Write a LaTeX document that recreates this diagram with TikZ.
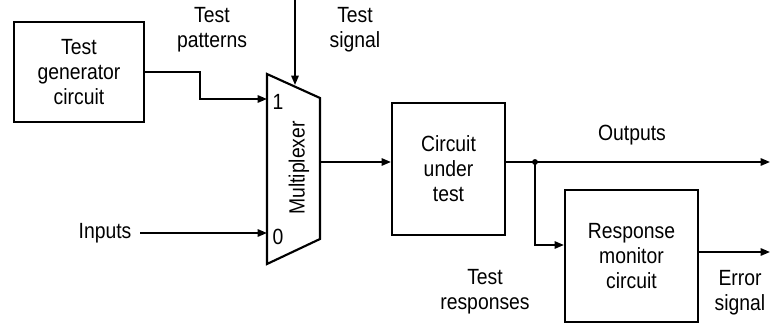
\documentclass[tikz,border=0pt]{standalone}
\usepackage{fontspec}
\setmainfont{Liberation Sans}[FakeStretch=0.88]
\usetikzlibrary{arrows.meta}
\begin{document}
\begin{tikzpicture}[x=0.75pt, y=-0.75pt, line width=1.4pt,
  >={Triangle[length=7pt,width=5.5pt]},
  block/.style={draw, line width=1.6pt, align=center, inner sep=0pt},
  lbl/.style={align=center, inner sep=2pt},
  every node/.append style={font=\fontsize{16.5pt}{18.75pt}\selectfont}]
\useasboundingbox (0,0) rectangle (770,324);

\node[block, minimum width=97.5pt, minimum height=75pt] (gen) at (79,72) {Test\\generator\\circuit};
\node[block, minimum width=84.75pt, minimum height=99pt] (cut) at (448.5,169) {Circuit\\under\\test};
\node[block, minimum width=99.75pt, minimum height=99pt] (rm) at (631.5,256) {Response\\monitor\\circuit};

% multiplexer
\draw[line width=1.6pt] (267,74) -- (320,98) -- (320,239) -- (267,264) -- cycle;
\node[lbl, rotate=90] (muxlbl) at (299,168) {Multiplexer};
\node[lbl] (one) at (278,102) {1};
\node[lbl] (zero) at (278,237) {0};
\coordinate (in1) at (267,99);
\coordinate (in0) at (267,233);
\coordinate (sel) at (295,85);
\coordinate (seltop) at (295,0);
\coordinate (muxout) at (320,162);

\node[lbl] (patterns) at (212,30) {Test\\patterns};
\node[lbl] (signal) at (355,30) {Test\\signal};
\node[lbl] (inputs) at (105,233) {Inputs};
\node[lbl] (outputs) at (632,135) {Outputs};
\node[lbl] (responses) at (485,292) {Test\\responses};
\node[lbl] (error) at (740,293) {Error\\signal};

\coordinate (split) at (535,162);
\coordinate (outend) at (770,162);
\coordinate (errend) at (770,252);

\draw[->] (gen.east) -- ++(55,0) |- (in1);
\draw[->] (seltop) -- (sel);
\draw[->] ([xshift=4pt]inputs.east) -- (in0);
\draw[->] (muxout) -- (muxout -| cut.west);
\draw (muxout -| cut.east) -- (split);
\draw[->] (split) -- (outend);
\draw[->] (split) |- ([yshift=8.25pt]rm.west);
\draw[->] ([yshift=3pt]rm.east) -- (errend);
\fill (split) circle (2.2pt);
\end{tikzpicture}
\end{document}
